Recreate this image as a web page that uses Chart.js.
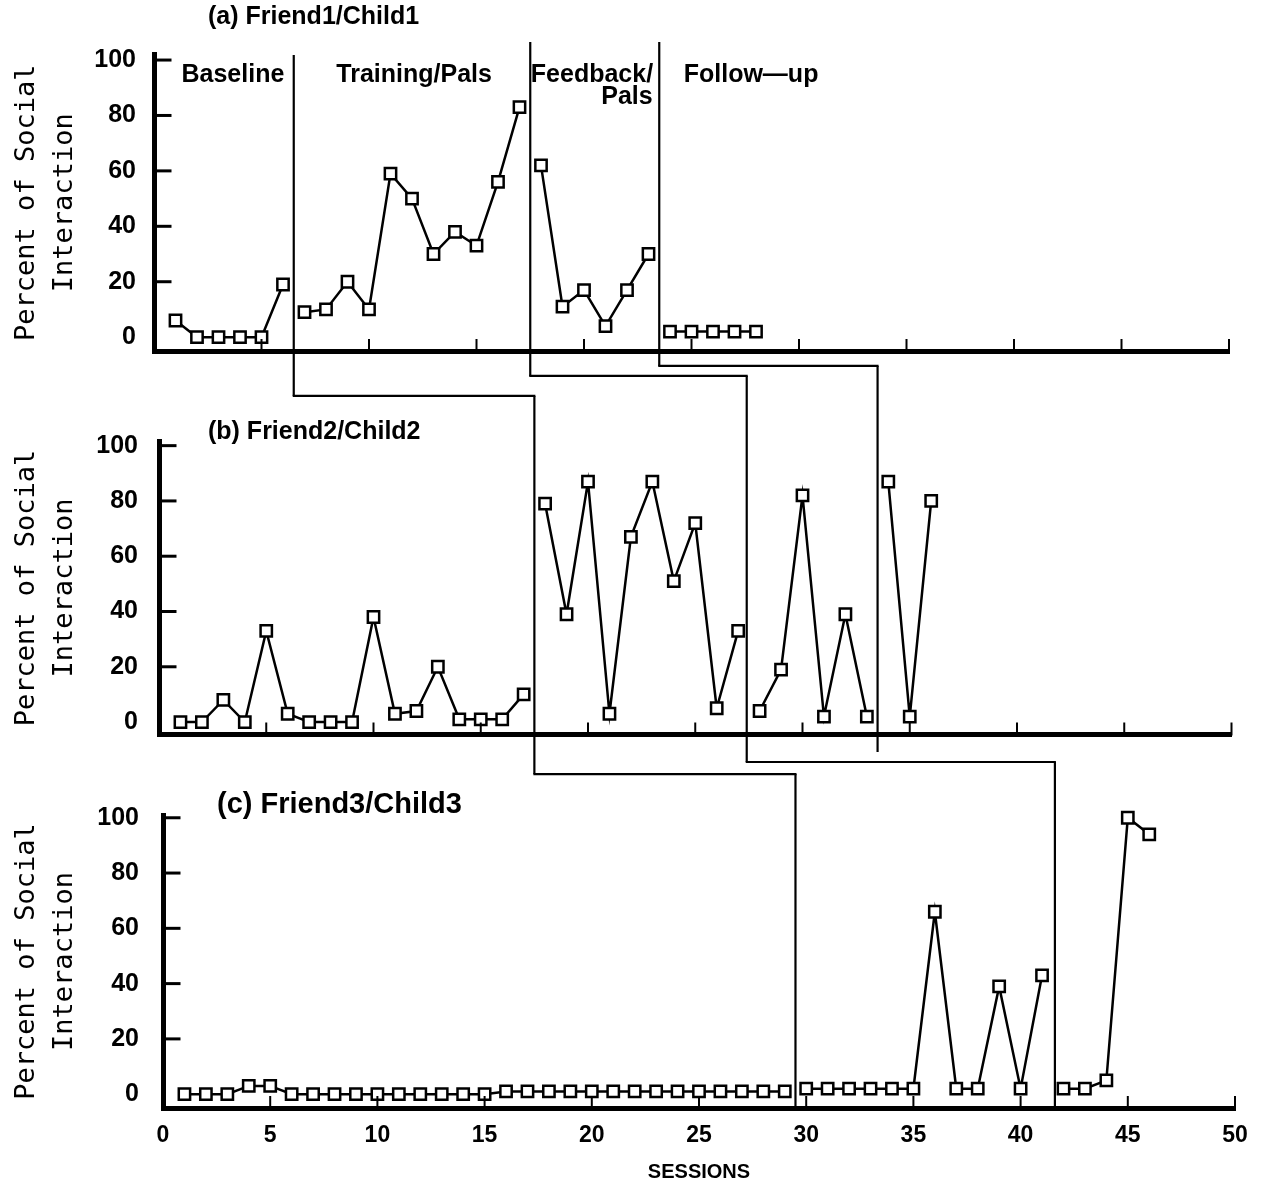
<!DOCTYPE html>
<html lang="en">
<head>
<meta charset="utf-8">
<title>Percent of Social Interaction</title>
<script src="https://cdn.jsdelivr.net/npm/chart.js@4.4.1/dist/chart.umd.min.js"></script>
<style>
  html, body { margin: 0; background: #fff; }
  #wrap { position: relative; width: 1264px; height: 1188px; }
  #wrap canvas { position: absolute; left: 0; top: 0; }
</style>
</head>
<body>
<div id="wrap">
  <canvas id="panelA" width="1264" height="1188"></canvas>
  <canvas id="panelB" width="1264" height="1188"></canvas>
  <canvas id="panelC" width="1264" height="1188"></canvas>
</div>
<script>
// (a) Friend1/Child1
const sessionsA = [1, 2, 3, 4, 5, 6, 7, 8, 9, 10, 11, 12, 13, 14, 15, 16, 17, 18, 19, 20, 21, 22, 23, 24, 25, 26, 27, 28];
const valuesA = [6, 0, 0, 0, 0, 19, 9, 10, 20, 10, 59, 50, 30, 38, 33, 56, 83, 62, 11, 17, 4, 17, 30, 2, 2, 2, 2, 2];
const phaseStartA = [1, 7, 18, 24];
const phaseLinesA = [6.5, 17.5, 23.5];

// (b) Friend2/Child2
const sessionsB = [1, 2, 3, 4, 5, 6, 7, 8, 9, 10, 11, 12, 13, 14, 15, 16, 17, 18, 19, 20, 21, 22, 23, 24, 25, 26, 27, 28, 29, 30, 31, 32, 33, 34, 35, 36];
const valuesB = [0, 0, 8, 0, 33, 3, 0, 0, 0, 38, 3, 4, 20, 1, 1, 1, 10, 79, 39, 87, 3, 67, 87, 51, 72, 5, 33, 4, 19, 82, 2, 39, 2, 87, 2, 80];
const phaseStartB = [1, 18, 28, 34];
const phaseLinesB = [17.5, 27.4, 33.5];

// (c) Friend3/Child3
const sessionsC = [1, 2, 3, 4, 5, 6, 7, 8, 9, 10, 11, 12, 13, 14, 15, 16, 17, 18, 19, 20, 21, 22, 23, 24, 25, 26, 27, 28, 29, 30, 31, 32, 33, 34, 35, 36, 37, 38, 39, 40, 41, 42, 43, 44, 45, 46];
const valuesC = [0, 0, 0, 3, 3, 0, 0, 0, 0, 0, 0, 0, 0, 0, 0, 1, 1, 1, 1, 1, 1, 1, 1, 1, 1, 1, 1, 1, 1, 2, 2, 2, 2, 2, 2, 66, 2, 2, 39, 2, 43, 2, 2, 5, 100, 94];
const phaseStartC = [1, 30, 42];
const phaseLinesC = [29.5, 41.6];

const phaseNames = ['Baseline', 'Training/Pals', 'Feedback/', 'Pals', 'Follow\u2014up'];
const yTickValues = [0, 20, 40, 60, 80, 100];

const FONT = "'Liberation Sans', Arial, sans-serif";
Chart.defaults.font.family = FONT;
Chart.defaults.color = '#000';

// where each panel sits on the page (pixels) and how its phase lines run
const panels = {
    a: {
        canvas: 'panelA', title: '(a) Friend1/Child1', titleX: 208, titleY: 17, titleSize: 25,
        sessions: sessionsA, values: valuesA, starts: phaseStartA, phases: phaseLinesA,
        left: 154, right: 1229, top: 54.5, bottom: 351, yMin: -5, yMax: 102,
        xHeight: 10, yPad: 18, showX: false,
        lineTop: [101.8, 106.5, 106.5], dropTo: [-21.2, -14, -10.4], prev: null,
    },
    b: {
        canvas: 'panelB', title: '(b) Friend2/Child2', titleX: 208, titleY: 432, titleSize: 25,
        sessions: sessionsB, values: valuesB, starts: phaseStartB, phases: phaseLinesB,
        left: 159, right: 1231.5, top: 441.5, bottom: 734.5, yMin: -4.5, yMax: 101.5,
        xHeight: 10, yPad: 21, showX: false,
        dropTo: [-18.8, -14.45, -10.8], prev: 'a',
    },
    c: {
        canvas: 'panelC', title: '(c) Friend3/Child3', titleX: 217, titleY: 805, titleSize: 29,
        sessions: sessionsC, values: valuesC, starts: phaseStartC, phases: phaseLinesC,
        left: 163, right: 1235, top: 815, bottom: 1108, yMin: -5, yMax: 101,
        xHeight: 78, yPad: 24, showX: true,
        dropTo: [-5, -5], prev: 'b',
    },
};

// phase captions of panel (a), placed in data units
panels.a.captions = [
    { text: phaseNames[0], x: 3.67, y: 94.6 },
    { text: phaseNames[1], x: 12.1, y: 94.6 },
    { text: phaseNames[2], x: 20.37, y: 94.6 },
    { text: phaseNames[3], x: 22.0, y: 86.7 },
    { text: phaseNames[4], x: 27.77, y: 94.6 },
];

const charts = {};

// one line per phase so the series breaks at every phase change
function buildDatasets(P) {
    return P.starts.map((start, i) => {
        const end = i + 1 < P.starts.length ? P.starts[i + 1] : Infinity;
        const pts = [];
        P.sessions.forEach((s, k) => {
            if (s >= start && s < end) pts.push({ x: s, y: P.values[k] });
        });
        return {
            data: pts,
            borderColor: '#000',
            borderWidth: 2.5,
            tension: 0,
            pointStyle: 'rect',
            pointRadius: 8,
            pointBorderWidth: 2.5,
            pointBorderColor: '#000',
            pointBackgroundColor: '#fff',
            clip: false,
        };
    });
}

function seg(ctx, x1, y1, x2, y2) {
    ctx.beginPath();
    ctx.moveTo(x1, y1);
    ctx.lineTo(x2, y2);
    ctx.stroke();
}

// inner ticks, phase lines with their steps, panel title and captions
function decor(P) {
    return {
        id: 'decor',
        afterDraw(chart) {
            const { ctx, chartArea } = chart;
            const x = chart.scales.x;
            const y = chart.scales.y;
            ctx.save();
            ctx.strokeStyle = '#000';
            ctx.fillStyle = '#000';
            ctx.lineCap = 'square';

            ctx.lineWidth = 3;
            y.ticks.forEach(t => {
                if (t.value === 0) return;
                const py = y.getPixelForValue(t.value);
                seg(ctx, chartArea.left, py, chartArea.left + 16, py);
            });
            ctx.lineWidth = 2;
            x.ticks.forEach(t => {
                if (t.value === 0) return;
                const px = x.getPixelForValue(t.value);
                seg(ctx, px, chartArea.bottom, px, chartArea.bottom - 11);
            });

            ctx.lineWidth = 2.2;
            ctx.lineCap = 'butt';
            P.phases.forEach((v, i) => {
                const px = x.getPixelForValue(v);
                const yEnd = y.getPixelForValue(P.dropTo[i]);
                let yStart;
                if (P.prev) {
                    const prev = charts[P.prev];
                    const PP = panels[P.prev];
                    yStart = prev.scales.y.getPixelForValue(PP.dropTo[i]);
                    const prevX = prev.scales.x.getPixelForValue(PP.phases[i]);
                    seg(ctx, prevX - 1, yStart, px + 1, yStart);
                } else {
                    yStart = y.getPixelForValue(P.lineTop[i]);
                }
                seg(ctx, px, yStart, px, yEnd);
            });

            ctx.font = 'bold ' + P.titleSize + 'px ' + FONT;
            ctx.textAlign = 'left';
            ctx.textBaseline = 'middle';
            ctx.fillText(P.title, P.titleX, P.titleY);

            if (P.captions) {
                ctx.font = 'bold 25px ' + FONT;
                ctx.textAlign = 'center';
                P.captions.forEach(c => {
                    ctx.fillText(c.text, x.getPixelForValue(c.x), y.getPixelForValue(c.y));
                });
            }
            ctx.restore();
        },
    };
}

function createPanel(key) {
    const P = panels[key];
    charts[key] = new Chart(document.getElementById(P.canvas), {
        type: 'line',
        data: { datasets: buildDatasets(P) },
        options: {
            responsive: false,
            animation: false,
            events: [],
            layout: {
                padding: { left: 8, right: 1264 - P.right, top: P.top, bottom: 1188 - P.bottom - P.xHeight },
            },
            plugins: {
                legend: { display: false },
                tooltip: { enabled: false },
            },
            scales: {
                x: {
                    type: 'linear',
                    min: 0,
                    max: 50,
                    ticks: {
                        stepSize: 5,
                        display: P.showX,
                        autoSkip: false,
                        maxRotation: 0,
                        padding: 14,
                        color: '#000',
                        font: { size: 23, weight: 'bold' },
                    },
                    grid: { display: false, drawTicks: false },
                    border: { color: '#000', width: 5 },
                    title: {
                        display: P.showX,
                        text: 'SESSIONS',
                        color: '#000',
                        font: { size: 20, weight: 'bold', lineHeight: 1.2 },
                        padding: { top: 0, bottom: 2 },
                    },
                    afterFit: s => { s.height = P.xHeight; },
                },
                y: {
                    type: 'linear',
                    min: P.yMin,
                    max: P.yMax,
                    afterBuildTicks: s => { s.ticks = yTickValues.map(v => ({ value: v })); },
                    ticks: {
                        padding: P.yPad,
                        color: '#000',
                        font: { size: 25, weight: 'bold' },
                    },
                    grid: { display: false, drawTicks: false },
                    border: { color: '#000', width: 5 },
                    title: {
                        display: true,
                        text: ['Percent of Social', 'Interaction'],
                        color: '#000',
                        font: { family: "'DejaVu Sans Mono', monospace", size: 27, lineHeight: 1.4 },
                        padding: 0,
                    },
                    afterFit: s => { s.width = P.left - 8; },
                },
            },
        },
        plugins: [decor(P)],
    });
}

createPanel('a');
createPanel('b');
createPanel('c');
</script>
</body>
</html>
